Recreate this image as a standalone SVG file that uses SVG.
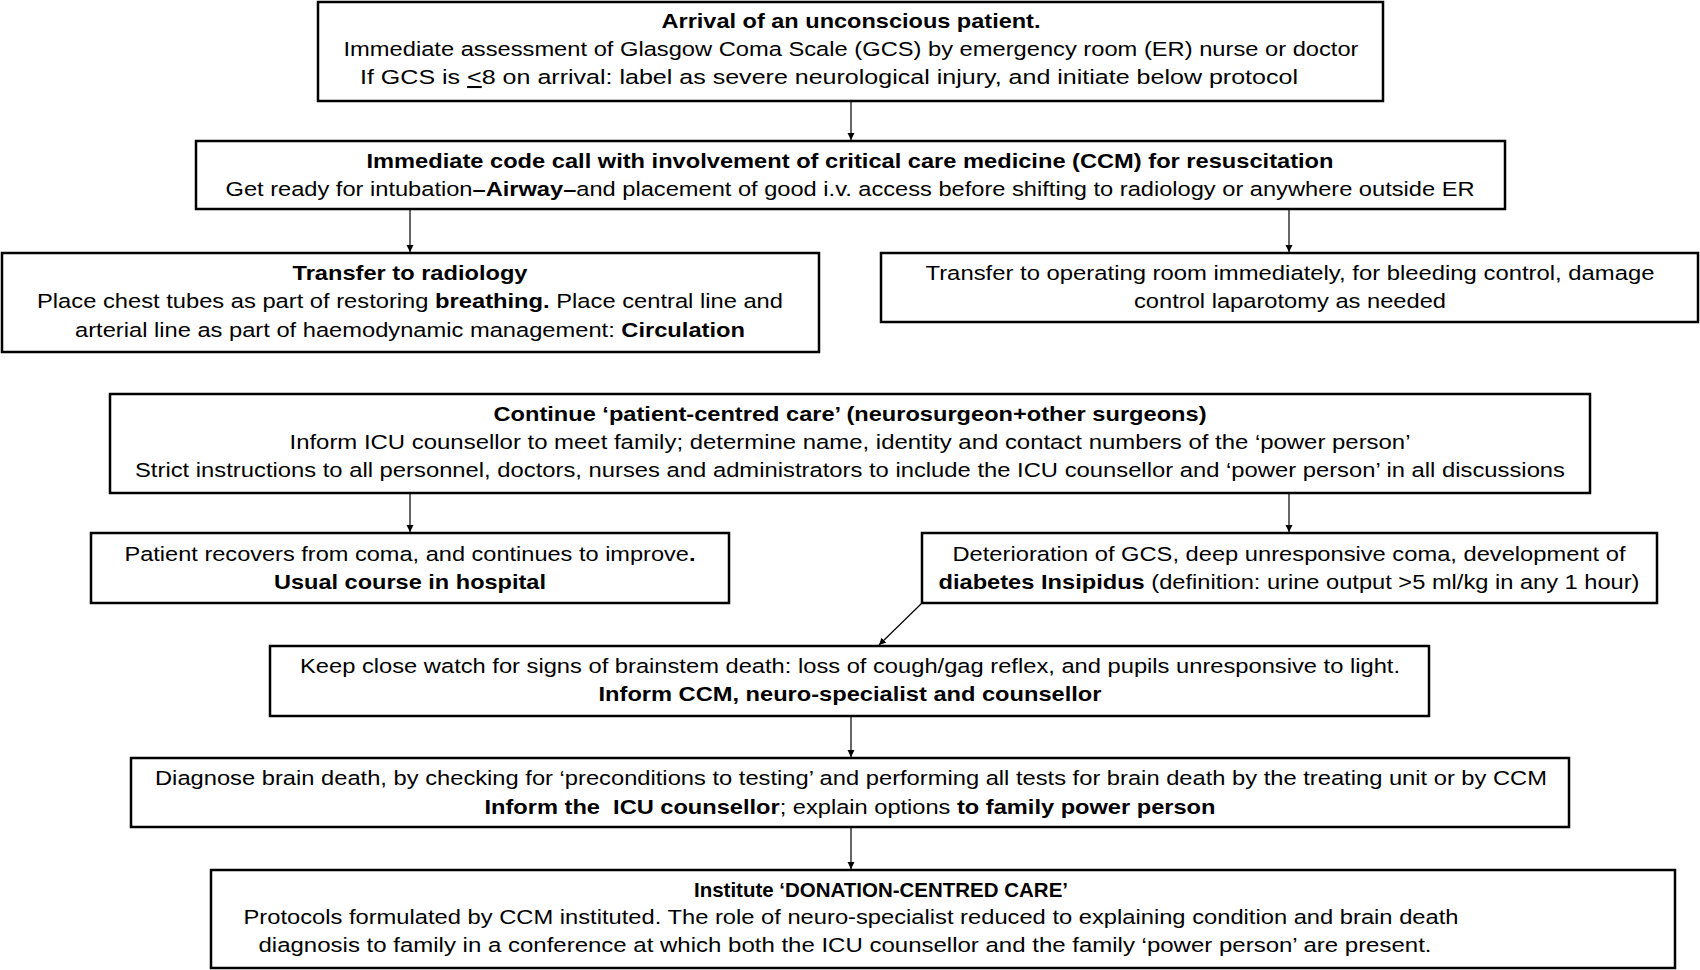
<svg xmlns="http://www.w3.org/2000/svg" width="1700" height="970" viewBox="0 0 1700 970">
<defs>
<style>
.box{fill:#fff;stroke:#000;stroke-width:2.5}
.t{font-family:"Liberation Sans",Arial,sans-serif;font-size:20.5px;fill:#000;text-anchor:middle}
.b{font-weight:bold}
.c{stroke:#000;stroke-width:1.2;fill:none}
</style>
<marker id="ah" viewBox="0 0 10 10" refX="10" refY="5" markerWidth="7" markerHeight="9" markerUnits="userSpaceOnUse" orient="auto"><path d="M0,0 L10,5 L0,10 z" fill="#000"/></marker>
</defs>
<rect width="1700" height="970" fill="#fff"/>
<g id="connectors">
<line class="c" x1="851" y1="101" x2="851" y2="140" marker-end="url(#ah)"/>
<line class="c" x1="410" y1="209" x2="410" y2="252" marker-end="url(#ah)"/>
<line class="c" x1="1289" y1="209" x2="1289" y2="252" marker-end="url(#ah)"/>
<line class="c" x1="410" y1="493" x2="410" y2="532" marker-end="url(#ah)"/>
<line class="c" x1="1289" y1="493" x2="1289" y2="532" marker-end="url(#ah)"/>
<line class="c" x1="922" y1="603" x2="879" y2="645" marker-end="url(#ah)"/>
<line class="c" x1="851" y1="716" x2="851" y2="757" marker-end="url(#ah)"/>
<line class="c" x1="851" y1="827" x2="851" y2="869" marker-end="url(#ah)"/>
</g>
<g id="n1">
<rect class="box" x="318" y="2" width="1065" height="99"/>
<text class="t b" x="851" y="28" textLength="379" lengthAdjust="spacingAndGlyphs">Arrival of an unconscious patient.</text>
<text class="t" x="851" y="56" textLength="1015" lengthAdjust="spacingAndGlyphs">Immediate assessment of Glasgow Coma Scale (GCS) by emergency room (ER) nurse or doctor</text>
<text class="t" x="829" y="84" textLength="938" lengthAdjust="spacingAndGlyphs">If GCS is <tspan text-decoration="underline">&lt;</tspan>8 on arrival: label as severe neurological injury, and initiate below protocol</text>
</g>
<g id="n2">
<rect class="box" x="196" y="141" width="1309" height="68"/>
<text class="t b" x="850" y="168" textLength="967" lengthAdjust="spacingAndGlyphs">Immediate code call with involvement of critical care medicine (CCM) for resuscitation</text>
<text class="t" x="850" y="196" textLength="1249" lengthAdjust="spacingAndGlyphs">Get ready for intubation<tspan class="b">–Airway–</tspan>and placement of good i.v. access before shifting to radiology or anywhere outside ER</text>
</g>
<g id="n3">
<rect class="box" x="2" y="253" width="817" height="99"/>
<text class="t b" x="410" y="280" textLength="235" lengthAdjust="spacingAndGlyphs">Transfer to radiology</text>
<text class="t" x="410" y="308" textLength="746" lengthAdjust="spacingAndGlyphs">Place chest tubes as part of restoring <tspan class="b">breathing.</tspan> Place central line and</text>
<text class="t" x="410" y="337" textLength="670" lengthAdjust="spacingAndGlyphs">arterial line as part of haemodynamic management: <tspan class="b">Circulation</tspan></text>
</g>
<g id="n4">
<rect class="box" x="881" y="253" width="817" height="69"/>
<text class="t" x="1290" y="280" textLength="729" lengthAdjust="spacingAndGlyphs">Transfer to operating room immediately, for bleeding control, damage</text>
<text class="t" x="1290" y="308" textLength="312" lengthAdjust="spacingAndGlyphs">control laparotomy as needed</text>
</g>
<g id="n5">
<rect class="box" x="110" y="394" width="1480" height="99"/>
<text class="t b" x="850" y="421" textLength="713" lengthAdjust="spacingAndGlyphs">Continue ‘patient-centred care’ (neurosurgeon+other surgeons)</text>
<text class="t" x="850" y="449" textLength="1121" lengthAdjust="spacingAndGlyphs">Inform ICU counsellor to meet family; determine name, identity and contact numbers of the ‘power person’</text>
<text class="t" x="850" y="477" textLength="1430" lengthAdjust="spacingAndGlyphs">Strict instructions to all personnel, doctors, nurses and administrators to include the ICU counsellor and ‘power person’ in all discussions</text>
</g>
<g id="n6">
<rect class="box" x="91" y="533" width="638" height="70"/>
<text class="t" x="410" y="561" textLength="571" lengthAdjust="spacingAndGlyphs">Patient recovers from coma, and continues to improve<tspan class="b">.</tspan></text>
<text class="t b" x="410" y="589" textLength="272" lengthAdjust="spacingAndGlyphs">Usual course in hospital</text>
</g>
<g id="n7">
<rect class="box" x="922" y="533" width="735" height="70"/>
<text class="t" x="1289" y="561" textLength="673" lengthAdjust="spacingAndGlyphs">Deterioration of GCS, deep unresponsive coma, development of</text>
<text class="t" x="1289" y="589" textLength="701" lengthAdjust="spacingAndGlyphs"><tspan class="b">diabetes Insipidus</tspan> (definition: urine output &gt;5 ml/kg in any 1 hour)</text>
</g>
<g id="n8">
<rect class="box" x="270" y="646" width="1159" height="70"/>
<text class="t" x="850" y="673" textLength="1100" lengthAdjust="spacingAndGlyphs">Keep close watch for signs of brainstem death: loss of cough/gag reflex, and pupils unresponsive to light.</text>
<text class="t b" x="850" y="701" textLength="503" lengthAdjust="spacingAndGlyphs">Inform CCM, neuro-specialist and counsellor</text>
</g>
<g id="n9">
<rect class="box" x="131" y="758" width="1438" height="69"/>
<text class="t" x="851" y="785" textLength="1392" lengthAdjust="spacingAndGlyphs">Diagnose brain death, by checking for ‘preconditions to testing’ and performing all tests for brain death by the treating unit or by CCM</text>
<text class="t" x="850" y="814" textLength="731" lengthAdjust="spacingAndGlyphs" xml:space="preserve"><tspan class="b">Inform the  ICU counsellor</tspan>; explain options <tspan class="b">to family power person</tspan></text>
</g>
<g id="n10">
<rect class="box" x="211" y="870" width="1464" height="98"/>
<text class="t b" x="881" y="897" textLength="374" lengthAdjust="spacingAndGlyphs">Institute ‘DONATION-CENTRED CARE’</text>
<text class="t" x="851" y="924" textLength="1215" lengthAdjust="spacingAndGlyphs">Protocols formulated by CCM instituted. The role of neuro-specialist reduced to explaining condition and brain death</text>
<text class="t" x="845" y="952" textLength="1173" lengthAdjust="spacingAndGlyphs">diagnosis to family in a conference at which both the ICU counsellor and the family ‘power person’ are present.</text>
</g>
</svg>
